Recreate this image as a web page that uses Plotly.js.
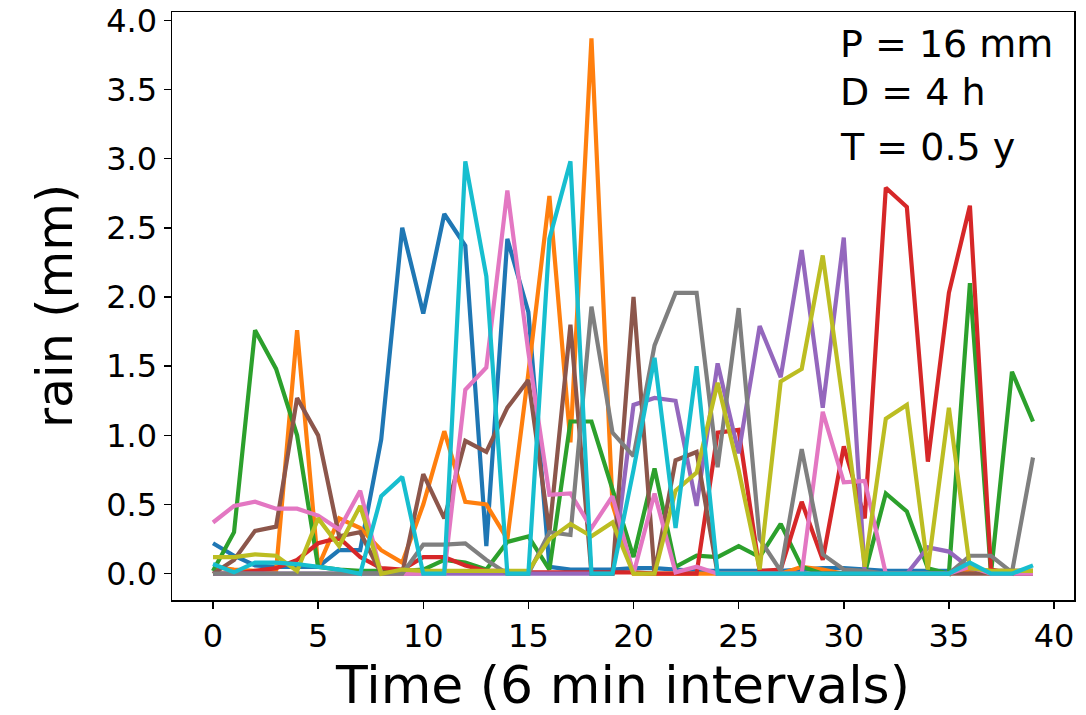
<!DOCTYPE html>
<html>
<head>
<meta charset="utf-8">
<script src="https://cdn.plot.ly/plotly-3.0.1.min.js"></script>
<style>html,body{margin:0;padding:0;background:#fff}#chart{width:1086px;height:715px}</style>
</head>
<body>
<div id="chart"></div>
<script>
const time = Array.from({length: 40}, (_, i) => i);
const xTicks = [0, 5, 10, 15, 20, 25, 30, 35, 40];
const yTicks = [0, 0.5, 1, 1.5, 2, 2.5, 3, 3.5, 4];
const yTickLabels = ["0.0", "0.5", "1.0", "1.5", "2.0", "2.5", "3.0", "3.5", "4.0"];
const colors = ["#1f77b4", "#ff7f0e", "#2ca02c", "#d62728", "#9467bd", "#8c564b", "#e377c2", "#7f7f7f", "#bcbd22", "#17becf"];

const blue   = [0.22,0.13,0.06,0.05,0.05,0.05,0.17,0.17,0.97,2.5,1.88,2.6,2.37,0.2,2.42,1.89,0.05,0.03,0.03,0.03,0.04,0.04,0.03,0.02,0.02,0.02,0.02,0.02,0.03,0.04,0.04,0.03,0.02,0.02,0.02,0.02,0.02,0.02,0.02,0.02];
const orange = [0.05,0.03,0.02,0.02,1.76,0.05,0.4,0.33,0.17,0.08,0.5,1.03,0.52,0.5,0.25,1.45,2.73,0.95,3.87,0.5,0.0,0.0,0.0,0.0,0.0,0.0,0.0,0.0,0.05,0.03,0.0,0.0,0.0,0.0,0.0,0.0,0.03,0.02,0.02,0.02];
const green  = [0.02,0.3,1.76,1.48,1.0,0.05,0.03,0.02,0.02,0.02,0.03,0.1,0.08,0.03,0.23,0.27,0.03,1.1,1.1,0.6,0.12,0.76,0.05,0.13,0.12,0.2,0.12,0.36,0.05,0.0,0.0,0.0,0.58,0.45,0.04,0.0,2.1,0.0,1.46,1.1];
const red    = [0.0,0.0,0.02,0.04,0.1,0.22,0.26,0.12,0.04,0.03,0.12,0.12,0.06,0.02,0.02,0.01,0.01,0.01,0.01,0.01,0.01,0.0,0.0,0.0,1.02,1.04,0.02,0.03,0.52,0.1,0.92,0.4,2.79,2.65,0.81,2.03,2.66,0.03,0.0,0.0];
const purple = [0,0,0,0,0,0,0,0,0,0,0,0,0,0,0,0,0,0,0,0.0,1.22,1.27,1.25,0.49,1.52,0.87,1.79,1.42,2.34,1.2,2.43,0.0,0.0,0.0,0.19,0.16,0.04,0,0,0];
const brown  = [0.0,0.1,0.31,0.34,1.27,1.0,0.27,0.3,0.0,0.0,0.72,0.4,0.96,0.88,1.2,1.4,0.3,1.8,0.0,0.0,2.0,0.0,0.82,0.88,0.0,0.0,0.0,0.0,0.0,0.0,0.0,0.0,0.0,0.0,0.0,0.0,0.0,0.0,0.0,0.0];
const pink   = [0.37,0.49,0.52,0.47,0.47,0.42,0.32,0.6,0.0,0.0,0.0,0.0,1.33,1.49,2.77,1.6,0.57,0.58,0.33,0.56,0.0,0.58,0.01,0.05,0.0,0.0,0.0,0.0,0.0,1.17,0.66,0.67,0.0,0.0,0.0,0.0,0.05,0.0,0.0,0.0];
const gray   = [0,0,0,0,0,0,0,0,0,0,0.21,0.21,0.22,0.1,0.0,0.0,0.3,0.28,1.93,1.02,0.85,1.65,2.03,2.03,0.77,1.92,0.25,0.02,0.9,0.14,0.03,0.02,0.0,0.0,0.0,0.0,0.13,0.13,0.01,0.84];
const olive  = [0.12,0.12,0.14,0.13,0.02,0.4,0.2,0.49,0.0,0.03,0.02,0.02,0.02,0.02,0.02,0.02,0.25,0.36,0.27,0.37,0.0,0.0,0.6,0.73,1.38,0.75,0.03,1.39,1.48,2.3,1.2,0.05,1.12,1.22,0.03,1.2,0.04,0.02,0.02,0.02];
const cyan   = [0.07,0.01,0.08,0.08,0.07,0.05,0.03,0.0,0.56,0.7,0.0,0.0,2.98,2.15,0.0,0.0,2.42,2.98,0.0,0.0,0.75,1.56,0.33,1.5,0.0,0.0,0.0,0.0,0.0,0.0,0.0,0.0,0.0,0.0,0.0,0.0,0.08,0.0,0.0,0.06];

const series = [blue, orange, green, red, purple, brown, pink, gray, olive, cyan];
const infoLines = ["P = 16 mm", "D = 4 h", "T = 0.5 y"];

const font = "DejaVu Sans, sans-serif";
const traces = series.map((ys, i) => ({
  x: time, y: ys, type: "scatter", mode: "lines",
  line: {color: colors[i], width: 4.2},
  showlegend: false, hoverinfo: "skip"
}));

const annYs = [0.946, 0.864, 0.770];
const annotations = infoLines.map((t, i) => ({
  xref: "paper", yref: "paper", x: 0.738, y: annYs[i],
  xanchor: "left", yanchor: "middle", showarrow: false,
  text: t, font: {family: font, size: 38, color: "#000"}
}));

const layout = {
  width: 1086, height: 715,
  margin: {l: 172, r: 12, t: 12, b: 115},
  paper_bgcolor: "#fff", plot_bgcolor: "#fff",
  font: {family: font, color: "#000"},
  showlegend: false,
  xaxis: {
    range: [-1.95, 40.95], tickvals: xTicks, ticktext: xTicks.map(String),
    showgrid: false, zeroline: false, showline: true, mirror: true,
    linecolor: "#000", linewidth: 1.5, ticks: "outside", ticklen: 7, tickwidth: 1.5, tickcolor: "#000",
    tickfont: {family: font, size: 32, color: "#000"},
    title: {text: "Time (6 min intervals)", font: {family: font, size: 52, color: "#000"}, standoff: 0}
  },
  yaxis: {
    range: [-0.19, 4.06], tickvals: yTicks, ticktext: yTickLabels,
    showgrid: false, zeroline: false, showline: true, mirror: true,
    linecolor: "#000", linewidth: 1.5, ticks: "outside", ticklen: 7, tickwidth: 1.5, tickcolor: "#000",
    tickfont: {family: font, size: 32, color: "#000"},
    title: {text: "rain (mm)", font: {family: font, size: 49, color: "#000"}, standoff: 18}
  },
  annotations: annotations
};

Plotly.newPlot("chart", traces, layout, {staticPlot: true, displayModeBar: false});
</script>
</body>
</html>
